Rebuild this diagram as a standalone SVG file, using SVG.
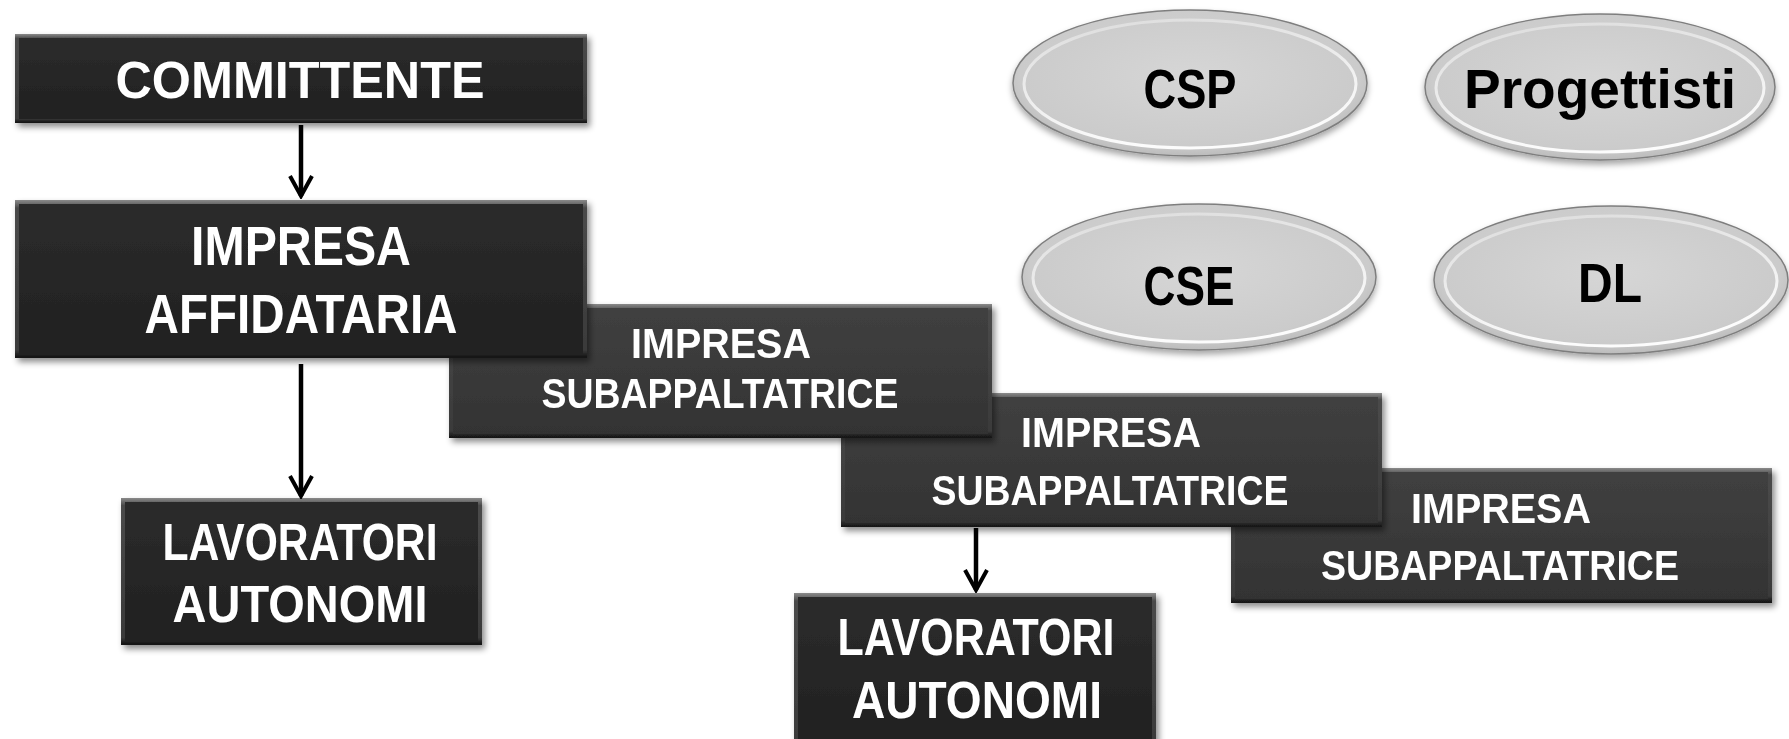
<svg xmlns="http://www.w3.org/2000/svg" width="1789" height="739" viewBox="0 0 1789 739">
  <defs>
    <filter id="shadow" x="-10%" y="-20%" width="125%" height="150%">
      <feDropShadow dx="3" dy="4" stdDeviation="3" flood-color="#000" flood-opacity="0.45"/>
    </filter>
    <filter id="eshadow" x="-10%" y="-20%" width="125%" height="150%">
      <feDropShadow dx="0" dy="4" stdDeviation="3" flood-color="#000" flood-opacity="0.35"/>
    </filter>
    <linearGradient id="edge" x1="0" y1="0" x2="0" y2="1">
      <stop offset="0" stop-color="#8a8a8a"/>
      <stop offset="0.05" stop-color="#4a4a4a"/>
      <stop offset="0.95" stop-color="#3a3a3a"/>
      <stop offset="1" stop-color="#101010"/>
    </linearGradient>
    <linearGradient id="darkFill" x1="0" y1="0" x2="0" y2="1">
      <stop offset="0" stop-color="#2c2c2c"/>
      <stop offset="1" stop-color="#202020"/>
    </linearGradient>
    <linearGradient id="subFill" x1="0" y1="0" x2="0" y2="1">
      <stop offset="0" stop-color="#404040"/>
      <stop offset="1" stop-color="#333333"/>
    </linearGradient>
    <radialGradient id="ellFill" cx="0.5" cy="0.45" r="0.6">
      <stop offset="0" stop-color="#d6d6d6"/>
      <stop offset="0.8" stop-color="#cbcbcb"/>
      <stop offset="1" stop-color="#b0b0b0"/>
    </radialGradient>
    <linearGradient id="rimGrad" x1="0" y1="0" x2="0.3" y2="1">
      <stop offset="0" stop-color="#ffffff" stop-opacity="0.3"/>
      <stop offset="1" stop-color="#ffffff" stop-opacity="0.95"/>
    </linearGradient>
    <marker id="arrow" viewBox="-3 -14 26 28" markerWidth="26" markerHeight="28" refX="20" refY="0" orient="auto" markerUnits="userSpaceOnUse">
      <path d="M0,-11 L20,0 L0,11" fill="none" stroke="#000" stroke-width="4"/>
    </marker>
  </defs>
  <style>
    .box { filter: url(#shadow); }
    .edge { fill: url(#edge); }
    .dark { fill: url(#darkFill); }
    .sub { fill: url(#subFill); }
    .wt { font-family: "Liberation Sans", Arial, sans-serif; font-weight: bold; fill: #ffffff; text-anchor: middle; }
    .big { font-size: 56px; }
    .mid { font-size: 52px; }
    .sm { font-size: 43px; }
    .bt { font-family: "Liberation Sans", Arial, sans-serif; font-weight: bold; fill: #000000; text-anchor: middle; font-size: 55px; }
    .ell { fill: url(#ellFill); stroke: #7e7e7e; stroke-width: 1.5; filter: url(#eshadow); }
    .rim { fill: none; stroke: url(#rimGrad); stroke-width: 3; }
    .conn { stroke: #000; stroke-width: 4.5; fill: none; marker-end: url(#arrow); }
  </style>
  <rect width="1789" height="739" fill="#ffffff"/>

  <!-- Sub-contractor boxes (back to front) -->
  <g id="sub3" class="box">
    <rect class="edge" x="1231" y="468" width="541" height="135"/>
    <rect class="sub" x="1235" y="472" width="533" height="127"/>
    <text class="wt sm" x="1501" y="523" textLength="180" lengthAdjust="spacingAndGlyphs">IMPRESA</text>
    <text class="wt sm" x="1500" y="580" textLength="358" lengthAdjust="spacingAndGlyphs">SUBAPPALTATRICE</text>
  </g>
  <g id="sub2" class="box">
    <rect class="edge" x="841" y="393" width="541" height="134"/>
    <rect class="sub" x="845" y="397" width="533" height="126"/>
    <text class="wt sm" x="1111" y="447" textLength="180" lengthAdjust="spacingAndGlyphs">IMPRESA</text>
    <text class="wt sm" x="1110" y="505" textLength="357" lengthAdjust="spacingAndGlyphs">SUBAPPALTATRICE</text>
  </g>
  <g id="sub1" class="box">
    <rect class="edge" x="449" y="304" width="543" height="134"/>
    <rect class="sub" x="453" y="308" width="535" height="126"/>
    <text class="wt sm" x="721" y="358" textLength="180" lengthAdjust="spacingAndGlyphs">IMPRESA</text>
    <text class="wt sm" x="720" y="408" textLength="357" lengthAdjust="spacingAndGlyphs">SUBAPPALTATRICE</text>
  </g>

  <g id="committente" class="box">
    <rect class="edge" x="15" y="34" width="572" height="89"/>
    <rect class="dark" x="19" y="38" width="564" height="81"/>
    <text class="wt mid" x="300" y="98" textLength="369" lengthAdjust="spacingAndGlyphs">COMMITTENTE</text>
  </g>
  <g id="affidataria" class="box">
    <rect class="edge" x="15" y="200" width="572" height="158"/>
    <rect class="dark" x="19" y="204" width="564" height="150"/>
    <text class="wt big" x="301" y="265" textLength="220" lengthAdjust="spacingAndGlyphs">IMPRESA</text>
    <text class="wt big" x="301" y="333" textLength="313" lengthAdjust="spacingAndGlyphs">AFFIDATARIA</text>
  </g>
  <g id="lavoratori1" class="box">
    <rect class="edge" x="121" y="498" width="361" height="147"/>
    <rect class="dark" x="125" y="502" width="353" height="139"/>
    <text class="wt mid" x="300" y="560" textLength="275" lengthAdjust="spacingAndGlyphs">LAVORATORI</text>
    <text class="wt mid" x="300" y="622" textLength="255" lengthAdjust="spacingAndGlyphs">AUTONOMI</text>
  </g>
  <g id="lavoratori2" class="box">
    <rect class="edge" x="794" y="593" width="362" height="160"/>
    <rect class="dark" x="798" y="597" width="354" height="152"/>
    <text class="wt mid" x="976" y="655" textLength="277" lengthAdjust="spacingAndGlyphs">LAVORATORI</text>
    <text class="wt mid" x="977" y="718" textLength="250" lengthAdjust="spacingAndGlyphs">AUTONOMI</text>
  </g>

  <!-- Ellipses -->
  <g id="csp">
    <ellipse class="ell" cx="1190" cy="83" rx="177" ry="73"/>
    <ellipse class="rim" cx="1190" cy="84" rx="166" ry="64"/>
    <text class="bt" x="1190" y="108" textLength="93" lengthAdjust="spacingAndGlyphs">CSP</text>
  </g>
  <g id="progettisti">
    <ellipse class="ell" cx="1600" cy="87" rx="175" ry="73"/>
    <ellipse class="rim" cx="1600" cy="88" rx="164" ry="64"/>
    <text class="bt" x="1600" y="108" textLength="272" lengthAdjust="spacingAndGlyphs">Progettisti</text>
  </g>
  <g id="cse">
    <ellipse class="ell" cx="1199" cy="277" rx="177" ry="73"/>
    <ellipse class="rim" cx="1199" cy="278" rx="166" ry="64"/>
    <text class="bt" x="1189" y="305" textLength="91" lengthAdjust="spacingAndGlyphs">CSE</text>
  </g>
  <g id="dl">
    <ellipse class="ell" cx="1611" cy="280" rx="177" ry="74"/>
    <ellipse class="rim" cx="1611" cy="281" rx="166" ry="65"/>
    <text class="bt" x="1610" y="302" textLength="64" lengthAdjust="spacingAndGlyphs">DL</text>
  </g>

  <!-- Connectors -->
  <g id="connectors">
    <line class="conn" x1="301" y1="125" x2="301" y2="196"/>
    <line class="conn" x1="301" y1="364" x2="301" y2="496"/>
    <line class="conn" x1="976" y1="528" x2="976" y2="590"/>
  </g>
</svg>
